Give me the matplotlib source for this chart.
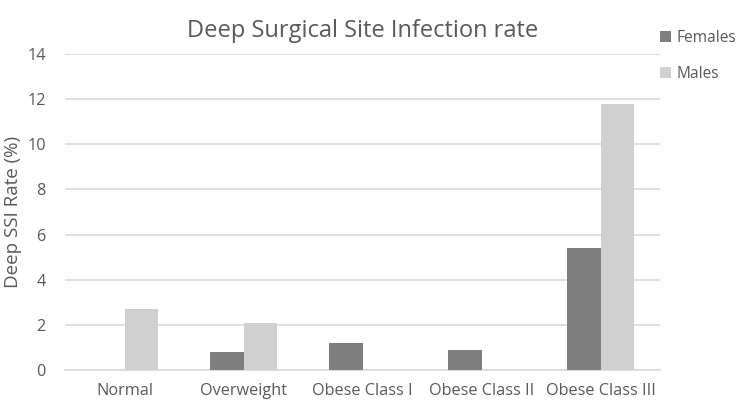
import matplotlib.pyplot as plt
import numpy as np

categories = ["Normal", "Overweight", "Obese Class I", "Obese Class II", "Obese Class III"]
females = [0.0, 0.8, 1.2, 0.9, 5.4]
males = [2.7, 2.1, 0.0, 0.0, 11.8]

plt.rcParams['font.family'] = ['Open Sans', 'DejaVu Sans']
txt = '#595959'

fig = plt.figure(figsize=(7.5, 4.05), dpi=100)
ax = fig.add_axes([0.087, 0.086, 0.793, 0.781])

x = np.arange(len(categories))
w = 0.283
ax.bar(x - w/2, females, w, color='#7f7f7f', label='Females', zorder=3)
ax.bar(x + w/2, males, w, color='#d0d0d0', label='Males', zorder=3)

ax.set_xlim(-0.5, len(categories) - 0.5)
ax.set_ylim(0, 14)
ax.set_yticks(range(0, 15, 2))
ax.set_xticks(x)
ax.set_xticklabels(categories)
ax.grid(axis='y', color='#d9d9d9', linewidth=1.2, zorder=0)
for s in ['top', 'right', 'left']:
    ax.spines[s].set_visible(False)
ax.spines['bottom'].set_color('#d9d9d9')
ax.spines['bottom'].set_linewidth(1.2)
ax.tick_params(length=0, labelsize=11.7, colors=txt)
ax.tick_params(axis='y', pad=14)
ax.tick_params(axis='x', pad=9)
ax.set_ylabel("Deep SSI Rate (%)", fontsize=13.5, color=txt, labelpad=4)
ax.set_title("Deep Surgical Site Infection rate", fontsize=17, color=txt, pad=12)

ax.legend(loc='upper right', bbox_to_anchor=(1.0, 0.0, 0.134, 1.085), frameon=False,
          fontsize=11.2, labelcolor=txt, handlelength=0.7, handleheight=0.7,
          labelspacing=1.25, handletextpad=0.4, borderpad=0.2, borderaxespad=0)

fig.savefig("out.png", dpi=100)
